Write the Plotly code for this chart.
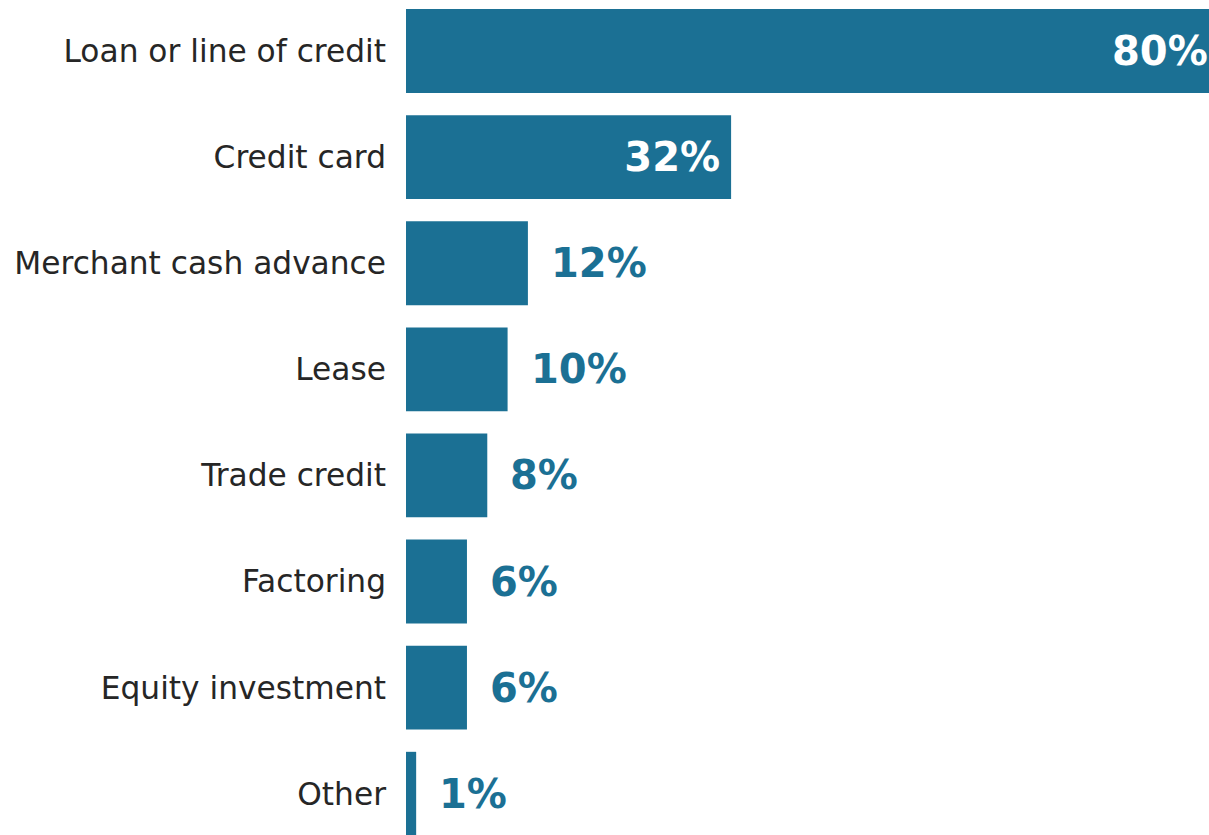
import plotly.graph_objects as go

categories = ["Loan or line of credit", "Credit card", "Merchant cash advance", "Lease",
              "Trade credit", "Factoring", "Equity investment", "Other"]
values = [80, 32, 12, 10, 8, 6, 6, 1]

BAR = "#1b7094"
labels = [f"{v}%" for v in values]
inside_text = [t + "\u2009" if v >= 30 else "" for t, v in zip(labels, values)]

fig = go.Figure()
fig.add_trace(go.Bar(
    x=values, y=categories, orientation="h",
    marker=dict(color=BAR, line=dict(width=0)),
    text=inside_text, textposition="inside", insidetextanchor="end",
    textfont=dict(family="DejaVu Sans", size=40, color="white", weight="bold"),
    constraintext="none",
    hoverinfo="skip",
))

for c, v, t in zip(categories, values, labels):
    if v < 30:
        fig.add_annotation(x=v, y=c, xref="x", yref="y", text=f"<b>{t}</b>",
                           showarrow=False, xanchor="left", yanchor="middle", xshift=21,
                           font=dict(family="DejaVu Sans", size=40, color=BAR))

fig.update_layout(
    width=1209, height=835,
    margin=dict(l=406, r=0, t=0, b=0),
    paper_bgcolor="white", plot_bgcolor="white",
    bargap=0.21,
    showlegend=False,
    xaxis=dict(range=[0, 79.04], visible=False, showgrid=False, zeroline=False),
    yaxis=dict(type="category", range=[7.389, -0.481], showgrid=False, zeroline=False,
               showline=False, ticks="", ticklabelstandoff=19,
               tickfont=dict(family="DejaVu Sans", size=31.25, color="#262626")),
)

fig.write_html("out.html",
               config={"displayModeBar": False},
               post_script="document.body.style.margin='0';document.body.style.overflow='hidden';")
